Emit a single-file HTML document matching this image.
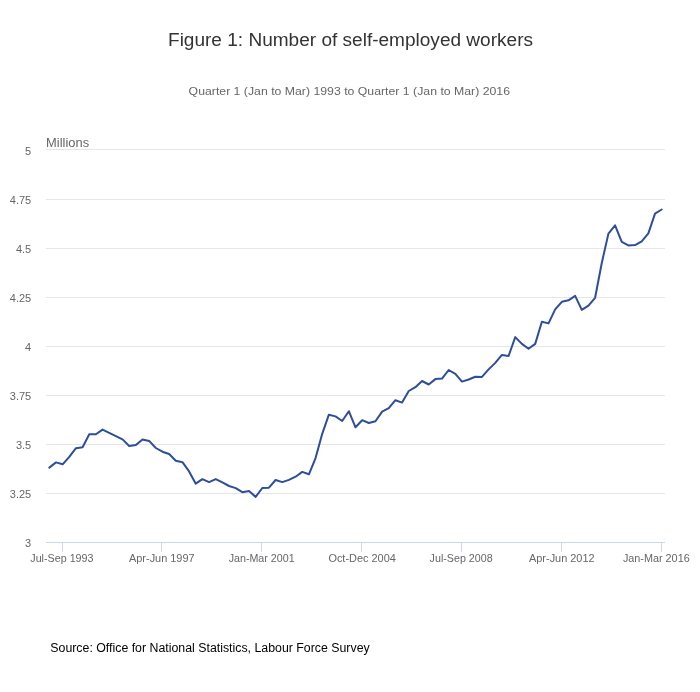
<!DOCTYPE html><html><head><meta charset="utf-8"><style>html,body{margin:0;padding:0;background:#fff;}svg{display:block;will-change:transform;}text{font-family:"Liberation Sans",sans-serif;}</style></head><body>
<svg width="700" height="692" viewBox="0 0 700 692">
<rect width="700" height="692" fill="#fff"/>
<text x="168" y="45.8" font-size="18" fill="#333" textLength="365" lengthAdjust="spacingAndGlyphs">Figure 1: Number of self-employed workers</text>
<text x="188.6" y="95.4" font-size="11.5" fill="#666" textLength="321.4" lengthAdjust="spacingAndGlyphs">Quarter 1 (Jan to Mar) 1993 to Quarter 1 (Jan to Mar) 2016</text>
<path d="M46 149.5 H665" stroke="#e6e6e6" stroke-width="1"/>
<path d="M46 199.5 H665" stroke="#e6e6e6" stroke-width="1"/>
<path d="M46 248.5 H665" stroke="#e6e6e6" stroke-width="1"/>
<path d="M46 297.5 H665" stroke="#e6e6e6" stroke-width="1"/>
<path d="M46 346.5 H665" stroke="#e6e6e6" stroke-width="1"/>
<path d="M46 395.5 H665" stroke="#e6e6e6" stroke-width="1"/>
<path d="M46 444.5 H665" stroke="#e6e6e6" stroke-width="1"/>
<path d="M46 493.5 H665" stroke="#e6e6e6" stroke-width="1"/>
<path d="M46 542.5 H665" stroke="#ccd6eb" stroke-width="1"/>
<path d="M62.5 542.5 V552" stroke="#ccd6eb" stroke-width="1"/>
<path d="M161.5 542.5 V552" stroke="#ccd6eb" stroke-width="1"/>
<path d="M261.5 542.5 V552" stroke="#ccd6eb" stroke-width="1"/>
<path d="M361.5 542.5 V552" stroke="#ccd6eb" stroke-width="1"/>
<path d="M461.5 542.5 V552" stroke="#ccd6eb" stroke-width="1"/>
<path d="M561.5 542.5 V552" stroke="#ccd6eb" stroke-width="1"/>
<path d="M661.5 542.5 V552" stroke="#ccd6eb" stroke-width="1"/>
<text x="46.1" y="147.1" font-size="12" fill="#666" textLength="43" lengthAdjust="spacingAndGlyphs">Millions</text>
<text x="31.2" y="154.9" font-size="11" fill="#666" text-anchor="end">5</text>
<text x="31.2" y="204.0" font-size="11" fill="#666" text-anchor="end">4.75</text>
<text x="31.2" y="252.9" font-size="11" fill="#666" text-anchor="end">4.5</text>
<text x="31.2" y="302.0" font-size="11" fill="#666" text-anchor="end">4.25</text>
<text x="31.2" y="350.9" font-size="11" fill="#666" text-anchor="end">4</text>
<text x="31.2" y="399.9" font-size="11" fill="#666" text-anchor="end">3.75</text>
<text x="31.2" y="448.9" font-size="11" fill="#666" text-anchor="end">3.5</text>
<text x="31.2" y="497.9" font-size="11" fill="#666" text-anchor="end">3.25</text>
<text x="31.2" y="546.9" font-size="11" fill="#666" text-anchor="end">3</text>
<text x="30.3" y="561.5" font-size="11" fill="#666" textLength="63.2" lengthAdjust="spacingAndGlyphs">Jul-Sep 1993</text>
<text x="129.0" y="561.5" font-size="11" fill="#666" textLength="65.6" lengthAdjust="spacingAndGlyphs">Apr-Jun 1997</text>
<text x="228.7" y="561.5" font-size="11" fill="#666" textLength="65.9" lengthAdjust="spacingAndGlyphs">Jan-Mar 2001</text>
<text x="328.4" y="561.5" font-size="11" fill="#666" textLength="67.4" lengthAdjust="spacingAndGlyphs">Oct-Dec 2004</text>
<text x="429.6" y="561.5" font-size="11" fill="#666" textLength="63.0" lengthAdjust="spacingAndGlyphs">Jul-Sep 2008</text>
<text x="529.0" y="561.5" font-size="11" fill="#666" textLength="65.6" lengthAdjust="spacingAndGlyphs">Apr-Jun 2012</text>
<text x="622.9" y="561.5" font-size="11" fill="#666" textLength="66.8" lengthAdjust="spacingAndGlyphs">Jan-Mar 2016</text>
<path d="M49.33,467.60 L55.98,462.40 L62.64,464.30 L69.30,456.90 L75.95,448.20 L82.61,447.20 L89.26,434.30 L95.92,434.20 L102.58,429.60 L109.23,432.80 L115.89,436.10 L122.54,439.40 L129.20,446.00 L135.85,445.00 L142.51,439.40 L149.17,440.90 L155.82,448.00 L162.48,451.70 L169.13,454.00 L175.79,460.80 L182.45,462.15 L189.10,471.40 L195.76,483.70 L202.41,479.20 L209.07,482.10 L215.73,479.10 L222.38,482.40 L229.04,486.00 L235.69,488.10 L242.35,492.20 L249.01,491.10 L255.66,496.90 L262.32,488.00 L268.97,487.70 L275.63,480.00 L282.28,482.10 L288.94,479.90 L295.60,476.70 L302.25,471.90 L308.91,474.30 L315.56,458.10 L322.22,433.80 L328.88,414.70 L335.53,416.40 L342.19,421.00 L348.84,411.20 L355.50,427.30 L362.16,420.20 L368.81,423.00 L375.47,421.20 L382.12,411.60 L388.78,408.20 L395.44,400.20 L402.09,402.60 L408.75,391.00 L415.40,387.20 L422.06,381.00 L428.72,384.50 L435.37,379.10 L442.03,378.60 L448.68,370.00 L455.34,373.80 L461.99,381.60 L468.65,379.50 L475.31,376.80 L481.96,376.90 L488.62,369.40 L495.27,362.90 L501.93,354.90 L508.59,356.00 L515.24,337.10 L521.90,343.90 L528.55,348.80 L535.21,343.90 L541.87,321.80 L548.52,323.40 L555.18,309.40 L561.83,301.80 L568.49,300.30 L575.15,295.90 L581.80,309.90 L588.46,305.70 L595.11,297.80 L601.77,263.00 L608.42,233.60 L615.08,225.40 L621.74,241.90 L628.39,245.40 L635.05,245.10 L641.70,241.30 L648.36,233.40 L655.02,213.60 L661.67,209.50" fill="none" stroke="#2e4d9b" stroke-width="2" stroke-linejoin="round" stroke-linecap="round"/>
<text x="50.3" y="651.9" font-size="12" fill="#000" textLength="319.4" lengthAdjust="spacingAndGlyphs">Source: Office for National Statistics, Labour Force Survey</text>
</svg></body></html>
